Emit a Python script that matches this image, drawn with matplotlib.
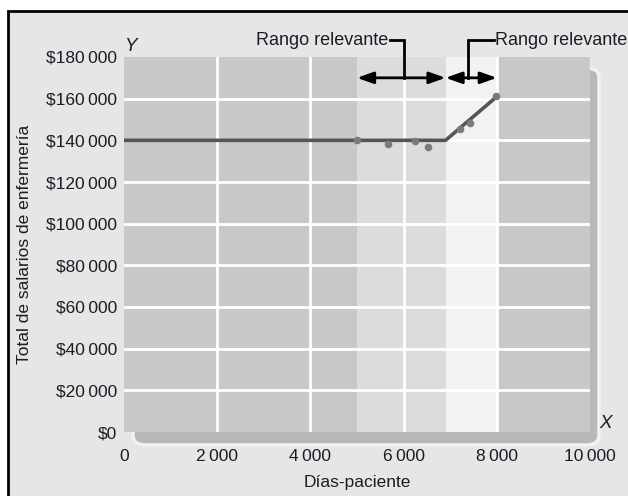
import matplotlib
matplotlib.use("Agg")
import matplotlib.pyplot as plt
from matplotlib.patches import Rectangle, FancyBboxPatch

plt.rcParams["font.family"] = ["Liberation Sans", "DejaVu Sans"]

# cost line (fixed, then step up)
line_x = [0, 6900, 8000]
line_y = [140000, 140000, 161000]

# observed points
obs_x = [5000, 5670, 6240, 6520, 7220, 7420, 7990]
obs_y = [140000, 138200, 139700, 137000, 145300, 148200, 161300]

# relevant ranges
range1 = [5000, 6900]
range2 = [6900, 8000]
range_label = "Rango relevante"

x_ticks = [0, 2000, 4000, 6000, 8000, 10000]
y_ticks = list(range(0, 180001, 20000))

TEXT = "#1c1c26"


def money(v):
    if v == 0:
        return "$0"
    s = f"{v:,}".replace(",", "\u2009")
    return "$" + s


fig = plt.figure(figsize=(6.28, 4.96), dpi=100)
fig.patch.set_facecolor("white")

# panel background with black frame
fig.patches.append(Rectangle((8 / 628, -0.05), 1.2, (496 - 11) / 496 + 0.05,
                             transform=fig.transFigure, facecolor="#e6e6e6",
                             edgecolor="black", linewidth=2, zorder=-3))
# drop shadow behind plot area
fig.patches.append(FancyBboxPatch((133 / 628, 51 / 496), (599 - 133) / 628, (445 - 68) / 496,
                                  boxstyle="round,pad=0,rounding_size=0.02",
                                  transform=fig.transFigure, facecolor="#b8b8b8",
                                  edgecolor="#f2f2f2", linewidth=2.5, zorder=-2))

ax = fig.add_axes([124 / 628, 64 / 496, 466 / 628, 375 / 496])
ax.set_facecolor("#c8c8c8")
ax.set_xlim(0, 10000)
ax.set_ylim(0, 180000)

ax.axvspan(range1[0], range1[1], color="#dcdcdc", lw=0, zorder=0.5)
ax.axvspan(range2[0], range2[1], color="#f2f2f2", lw=0, zorder=0.5)

for xv in x_ticks[1:-1]:
    ax.axvline(xv, color="white", lw=2, zorder=1)
for yv in y_ticks[1:-1]:
    ax.axhline(yv, color="white", lw=2, zorder=1)

ax.plot(line_x, line_y, color="#555555", lw=2.6, zorder=3)
ax.scatter(obs_x, obs_y, s=30, color="#7a7a7a", zorder=4, linewidths=0)

for sp in ax.spines.values():
    sp.set_visible(False)
ax.tick_params(length=0, labelsize=12.5, labelcolor=TEXT)
ax.tick_params(axis="x", pad=12)
ax.tick_params(axis="y", pad=5)
ax.set_xticks(x_ticks)
ax.set_xticklabels([f"{v:,}".replace(",", "\u2009") for v in x_ticks])
ax.set_yticks(y_ticks)
ax.set_yticklabels([money(v) for v in y_ticks])

ax.set_xlabel("Días-paciente", fontsize=12.5, color=TEXT, labelpad=8)
ax.set_ylabel("Total de salarios de enfermería", fontsize=12.5, color=TEXT, labelpad=10)

ax.text(0.0, 1.005, "Y", transform=ax.transAxes, fontsize=13.5, style="italic",
        color=TEXT, ha="left", va="bottom")
ax.text(1.02, 0.0, "X", transform=ax.transAxes, fontsize=13.5, style="italic",
        color=TEXT, ha="left", va="bottom")

# range arrows and brackets
arr_y = 170000
top_y = 188000
arrow = dict(arrowstyle="<|-|>,head_length=0.7,head_width=0.25", color="black", lw=2,
             mutation_scale=14, shrinkA=0, shrinkB=0)
ax.annotate("", xy=(range1[0], arr_y), xytext=(range1[1], arr_y), arrowprops=arrow,
            annotation_clip=False, zorder=5)
ax.annotate("", xy=(range2[0], arr_y), xytext=(range2[1], arr_y), arrowprops=arrow,
            annotation_clip=False, zorder=5)

ax.plot([6000, 6000, 5700], [arr_y, top_y, top_y], color="black", lw=2,
        clip_on=False, zorder=5, solid_joinstyle="miter")
ax.plot([7380, 7380, 7950], [arr_y, top_y, top_y], color="black", lw=2,
        clip_on=False, zorder=5, solid_joinstyle="miter")
ax.text(5680, top_y, range_label, fontsize=13, color=TEXT, ha="right", va="center")
ax.text(7970, top_y, range_label, fontsize=13, color=TEXT, ha="left", va="center")

fig.savefig("out.png", dpi=100)
